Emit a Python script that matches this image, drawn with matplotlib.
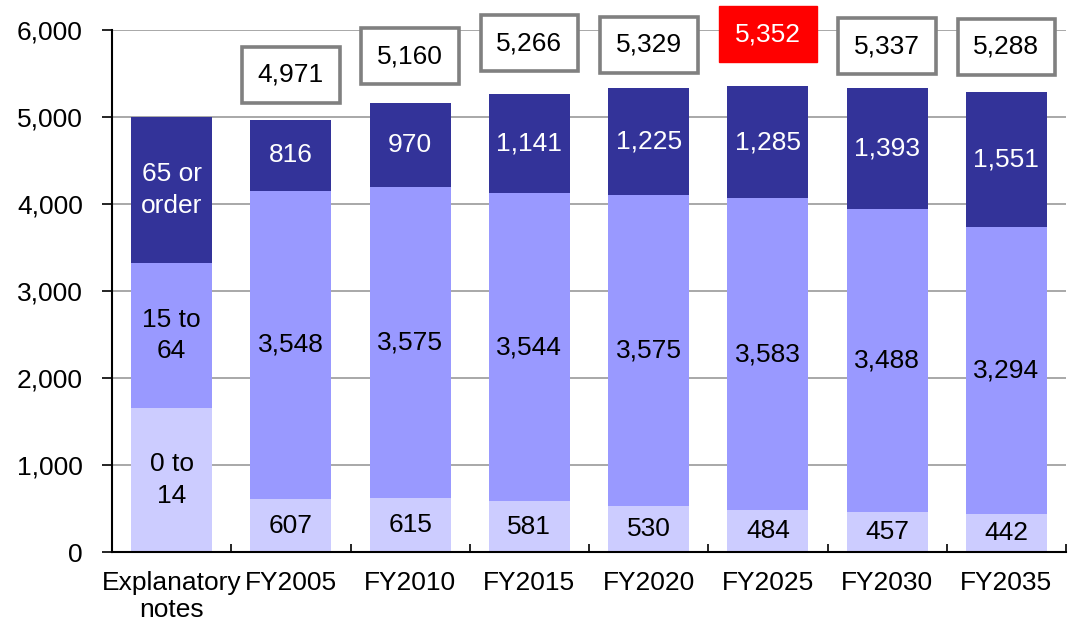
import matplotlib
matplotlib.use("Agg")
import matplotlib.pyplot as plt
import numpy as np

plt.rcParams['font.family'] = ['Liberation Sans', 'DejaVu Sans']

categories = ["Explanatory\nnotes", "FY2005", "FY2010", "FY2015", "FY2020", "FY2025", "FY2030", "FY2035"]
age_0_14 = [1660, 607, 615, 581, 530, 484, 457, 442]
age_15_64 = [1660, 3548, 3575, 3544, 3575, 3583, 3488, 3294]
age_65_plus = [1680, 816, 970, 1141, 1225, 1285, 1393, 1551]
totals = [None, 4971, 5160, 5266, 5329, 5352, 5337, 5288]
note_labels = ["0 to\n14", "15 to\n64", "65 or\norder"]
yticks = [0, 1000, 2000, 3000, 4000, 5000, 6000]

# layout: vertical centre of total boxes (data units)
box_y = [None, 5483, 5700, 5850, 5828, 5954, 5816, 5805]

c_light = "#CCCCFF"
c_mid = "#9999FF"
c_dark = "#333399"

fig = plt.figure(figsize=(10.70, 6.24), dpi=100)
ax = fig.add_axes([112/1070, 1-552/624, (1066-112)/1070, (552-30)/624])

x = np.arange(len(categories))
w = 0.68
b1 = np.array(age_0_14)
b2 = np.array(age_15_64)
b3 = np.array(age_65_plus)
ax.bar(x, b1, w, color=c_light, zorder=2)
ax.bar(x, b2, w, bottom=b1, color=c_mid, zorder=2)
ax.bar(x, b3, w, bottom=b1 + b2, color=c_dark, zorder=2)

fs = 19
for i in range(len(categories)):
    mids = [b1[i] / 2, b1[i] + b2[i] / 2, b1[i] + b2[i] + b3[i] / 2]
    if i == 0:
        texts = note_labels
    else:
        texts = [f"{b1[i]:,}", f"{b2[i]:,}", f"{b3[i]:,}"]
    colors = ["black", "black", "white"]
    for m, t, c in zip(mids, texts, colors):
        ax.text(x[i], m, t, ha="center", va="center", fontsize=fs, color=c,
                zorder=3, linespacing=1.4)
    if totals[i] is not None:
        if i == 5:
            bb = dict(boxstyle="square,pad=0.6", facecolor="#FF0000", edgecolor="#FF0000", linewidth=1)
            tc = "white"
        else:
            bb = dict(boxstyle="square,pad=0.6", facecolor="white", edgecolor="#808080", linewidth=2.6)
            tc = "black"
        ax.text(x[i], box_y[i], f"{totals[i]:,}", ha="center", va="center",
                fontsize=fs, color=tc, bbox=bb, zorder=5, clip_on=False)

ax.set_xlim(-0.5, len(categories) - 0.5)
ax.set_ylim(0, 6000)
ax.set_yticks(yticks)
ax.set_yticklabels([f"{v:,}" for v in yticks], fontsize=fs)
ax.yaxis.grid(True, color="#999999", linewidth=1.2, zorder=0)
ax.set_axisbelow(True)

ax.set_xticks(x)
ax.set_xticklabels(categories, fontsize=fs, linespacing=1.15)
ax.tick_params(axis="x", length=0, pad=14)
ax.set_xticks(np.arange(len(categories) + 1) - 0.5, minor=True)
ax.tick_params(axis="x", which="minor", direction="in", length=6, width=1.2)
ax.tick_params(axis="y", direction="out", length=7, width=1.2, pad=14)

for s in ["top", "right"]:
    ax.spines[s].set_visible(False)
ax.spines["left"].set_linewidth(1.5)
ax.spines["bottom"].set_linewidth(1.5)

fig.savefig("out.png", dpi=100)
